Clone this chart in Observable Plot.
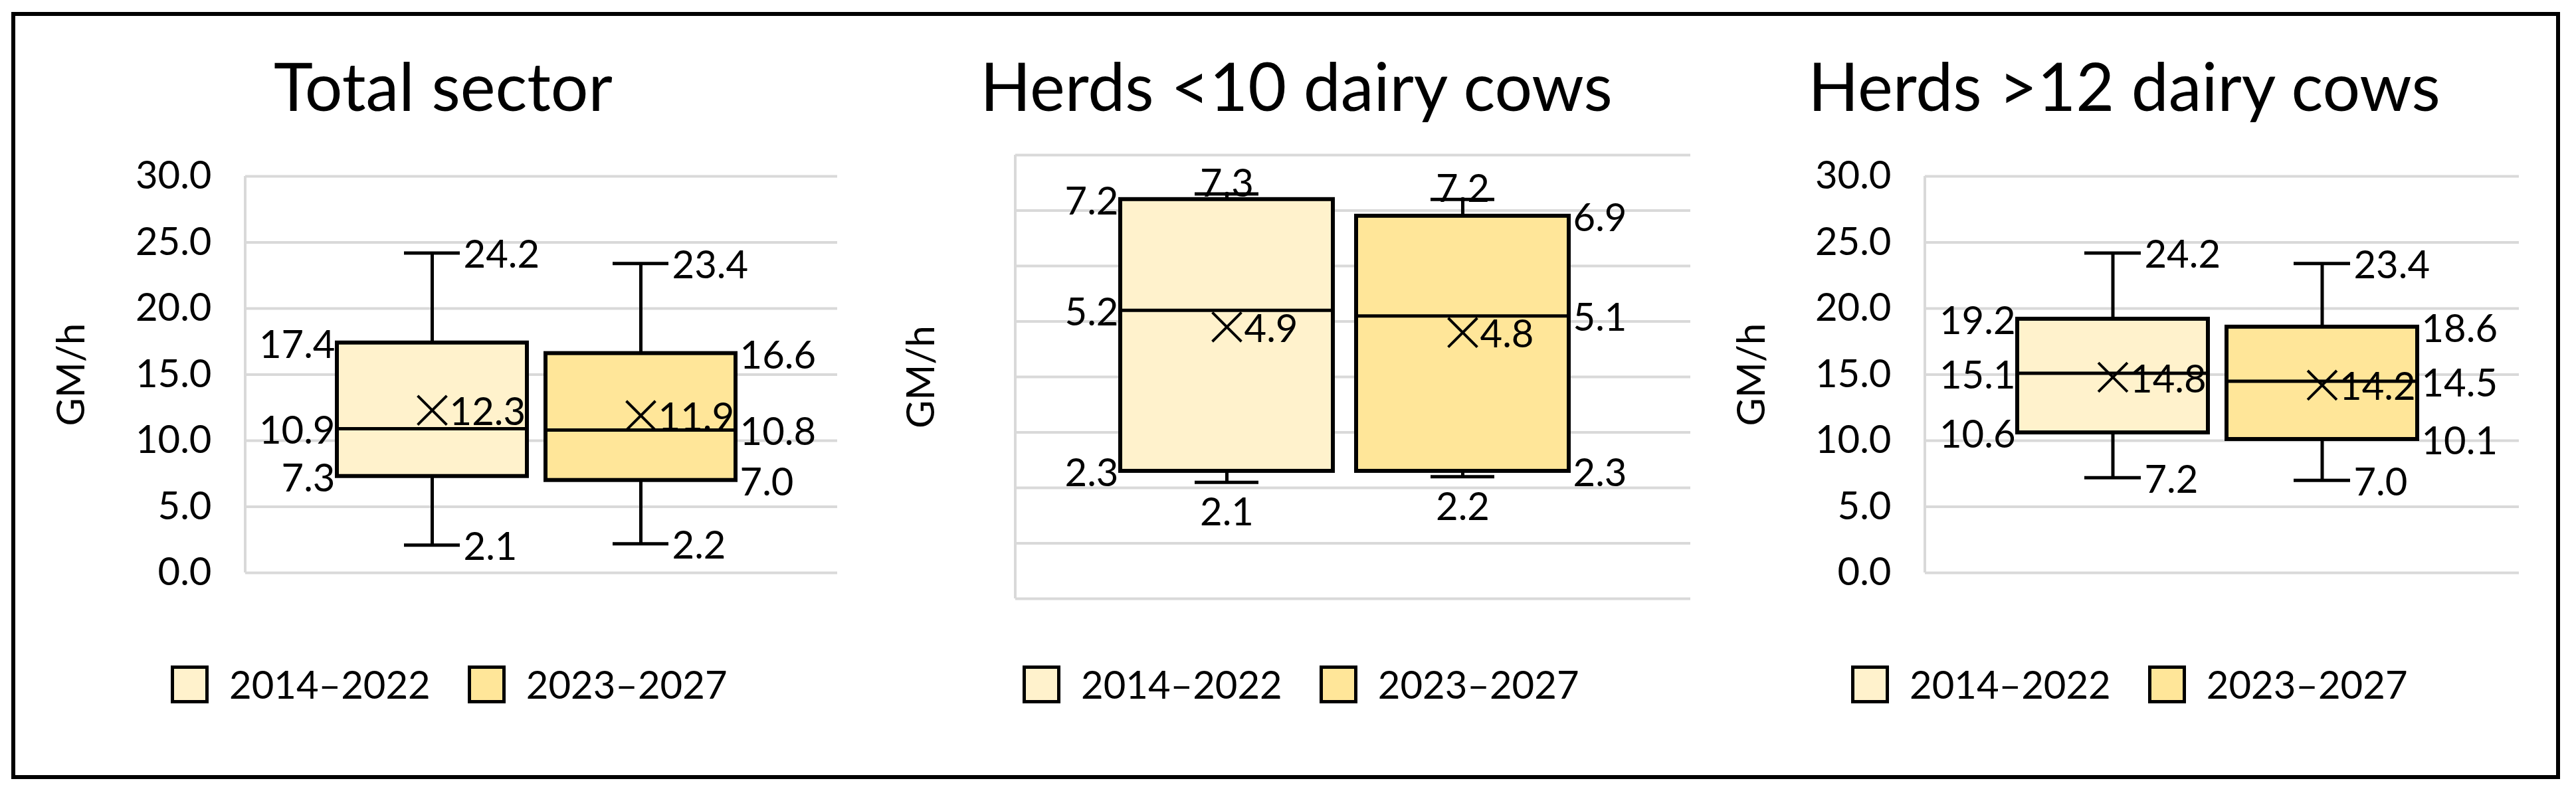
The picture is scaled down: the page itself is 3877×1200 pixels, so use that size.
<!DOCTYPE html>
<html>
<head>
<meta charset="utf-8">
<script src="https://cdn.jsdelivr.net/npm/d3@7"></script>
<script src="https://cdn.jsdelivr.net/npm/@observablehq/plot@0.6"></script>
<style>
  html, body { margin: 0; padding: 0; background: #fff; }
  body { width: 3877px; height: 1200px; position: relative; overflow: hidden; font-family: Lato, "Open Sans", sans-serif; color: #000; }
  .frame { position: absolute; left: 17px; top: 18px; width: 3836px; height: 1155px; box-sizing: border-box; border: 6px solid #000; }
  .title { position: absolute; width: 1600px; text-align: center; font-size: 100px; line-height: 1; white-space: nowrap; }
  .legend { position: absolute; display: flex; align-items: center; height: 56px; font-size: 58px; }
  .sw { width: 57px; height: 57px; box-sizing: border-box; border: 5px solid #000; margin-right: 31px; }
  .lt { line-height: 56px; margin-right: 56px; white-space: nowrap; }
  .panel { position: absolute; top: 200px; }
  .panel svg { overflow: visible; }
</style>
</head>
<body>
<div class="frame"></div>
<script>
// ---------- data ----------
const series = ["2014–2022", "2023–2027"];
const panelTitles = ["Total sector", "Herds <10 dairy cows", "Herds >12 dairy cows"];
const yAxisTitle = "GM/h";

// per panel, per series [2014–2022, 2023–2027]
const minValues    = [[2.1, 2.2],  [2.1, 2.2], [7.2, 7.0]];
const q1Values     = [[7.3, 7.0],  [2.3, 2.3], [10.6, 10.1]];
const medianValues = [[10.9, 10.8],[5.2, 5.1], [15.1, 14.5]];
const q3Values     = [[17.4, 16.6],[7.2, 6.9], [19.2, 18.6]];
const maxValues    = [[24.2, 23.4],[7.3, 7.2], [24.2, 23.4]];
const meanValues   = [[12.3, 11.9],[4.9, 4.8], [14.8, 14.2]];

const yTicksWide  = [0, 5, 10, 15, 20, 25, 30];
const yTickLabelsWide = ["0.0", "5.0", "10.0", "15.0", "20.0", "25.0", "30.0"];
const yTicksSmall = [0, 1, 2, 3, 4, 5, 6, 7, 8];

// ---------- styles / layout ----------
const fills = ["#FFF2CC", "#FFE699"];
const gridColor = "#D9D9D9";
const fontSize = 58;

const layout = [
  {svgLeft: 20,   width: 1270, mL: 349, mR: 30, mT: 65, mB: 138, ticks: yTicksWide,  tickLabels: yTickLabelsWide, pi: 0.09,   po: 0.4625, align: 0.475, capInset: 101, yLabelDx: -261, titleX: 667,  legendX: 257,  capLabels: "side"},
  {svgLeft: 1300, width: 1280, mL: 228, mR: 36, mT: 33, mB: 99,  ticks: yTicksSmall, tickLabels: null,            pi: 0.0986, po: 0.48,   align: 0.463, capInset: 112, yLabelDx: -141, titleX: 1951, legendX: 1539, capLabels: "vertical"},
  {svgLeft: 2590, width: 1250, mL: 307, mR: 49, mT: 65, mB: 138, ticks: yTicksWide,  tickLabels: yTickLabelsWide, pi: 0.09,   po: 0.4625, align: 0.475, capInset: 101, yLabelDx: -260, titleX: 3197, legendX: 2786, capLabels: "side"}
];
const svgHeight = 800;
const fmt = d3.format(".1f");

function leftLine(index, scales, values, dims) {
  const l = document.createElementNS("http://www.w3.org/2000/svg", "line");
  l.setAttribute("x1", dims.marginLeft);
  l.setAttribute("x2", dims.marginLeft);
  l.setAttribute("y1", dims.marginTop);
  l.setAttribute("y2", dims.height - dims.marginBottom);
  l.setAttribute("stroke", gridColor);
  l.setAttribute("stroke-width", 4);
  return l;
}

layout.forEach((L, p) => {
  const rows = series.map((s, i) => ({
    series: s, idx: i, fill: fills[i],
    min: minValues[p][i], q1: q1Values[p][i], median: medianValues[p][i],
    q3: q3Values[p][i], max: maxValues[p][i], mean: meanValues[p][i]
  }));
  const range = L.width - L.mL - L.mR;
  const step = range / (series.length - L.pi + 2 * L.po);
  const bw = step * (1 - L.pi);
  const capHalf = bw / 2 - L.capInset;
  const domain = [L.ticks[0], L.ticks[L.ticks.length - 1]];

  const marks = [
    Plot.gridY(L.ticks, {stroke: gridColor, strokeOpacity: 1, strokeWidth: 4}),
    leftLine,
    Plot.ruleX(rows, {x: "series", y1: "min", y2: "max", stroke: "#000", strokeWidth: 5}),
    Plot.barY(rows, {x: "series", y1: "q1", y2: "q3", fill: "fill", stroke: "#000", strokeWidth: 6}),
    Plot.tickY(rows, {x: "series", y: "median", stroke: "#000", strokeWidth: 5}),
    Plot.tickY(rows, {x: "series", y: "max", stroke: "#000", strokeWidth: 5, insetLeft: L.capInset, insetRight: L.capInset}),
    Plot.tickY(rows, {x: "series", y: "min", stroke: "#000", strokeWidth: 5, insetLeft: L.capInset, insetRight: L.capInset}),
    Plot.dot(rows, {x: "series", y: "mean", symbol: "times", r: 20, stroke: "#000", strokeWidth: 4}),
    Plot.text(rows, {x: "series", y: "mean", text: d => fmt(d.mean), dx: 26, dy: 4, textAnchor: "start", fontSize, fill: "#000"}),
    Plot.text([yAxisTitle], {frameAnchor: "left", dx: L.yLabelDx, rotate: -90, text: d => d, fontSize, fill: "#000", textAnchor: "middle"})
  ];
  if (L.tickLabels) {
    marks.unshift(Plot.axisY(L.ticks, {tickSize: 0, tickPadding: 51, tickFormat: (d, i) => L.tickLabels[L.ticks.indexOf(d)], fontSize, label: null, fill: "#000"}));
  }
  // box labels
  rows.forEach((r, i) => {
    const left = i === 0;
    for (const key of ["q1", "median", "q3"]) {
      marks.push(Plot.text([r], {x: "series", y: key, text: d => fmt(d[key]), dx: left ? -(bw / 2 + 3) : (bw / 2 + 6), dy: 4, textAnchor: left ? "end" : "start", fontSize, fill: "#000"}));
    }
    if (L.capLabels === "side") {
      marks.push(Plot.text([r], {x: "series", y: "max", text: d => fmt(d.max), dx: capHalf + 5, dy: 4, textAnchor: "start", fontSize, fill: "#000"}));
      marks.push(Plot.text([r], {x: "series", y: "min", text: d => fmt(d.min), dx: capHalf + 5, dy: 4, textAnchor: "start", fontSize, fill: "#000"}));
    } else {
      marks.push(Plot.text([r], {x: "series", y: "max", text: d => fmt(d.max), dy: 4, lineAnchor: "bottom", textAnchor: "middle", fontSize, fill: "#000"}));
      marks.push(Plot.text([r], {x: "series", y: "min", text: d => fmt(d.min), dy: 24, lineAnchor: "top", textAnchor: "middle", fontSize, fill: "#000"}));
    }
  });

  const chart = Plot.plot({
    width: L.width, height: svgHeight,
    marginLeft: L.mL, marginRight: L.mR, marginTop: L.mT, marginBottom: L.mB,
    x: {domain: series, paddingInner: L.pi, paddingOuter: L.po, align: L.align, axis: null},
    y: {domain, axis: null},
    style: {fontFamily: "Lato, 'Open Sans', sans-serif", fontSize: fontSize + "px", color: "#000", background: "transparent", overflow: "visible"},
    marks
  });
  const wrap = document.createElement("div");
  wrap.className = "panel";
  wrap.style.left = L.svgLeft + "px";
  wrap.appendChild(chart);
  document.body.appendChild(wrap);

  const t = document.createElement("div");
  t.className = "title";
  t.style.left = (L.titleX - 800) + "px";
  t.style.top = "78px";
  t.textContent = panelTitles[p];
  document.body.appendChild(t);

  const lg = document.createElement("div");
  lg.className = "legend";
  lg.style.left = L.legendX + "px";
  lg.style.top = "1002px";
  series.forEach((s, i) => {
    const sw = document.createElement("div");
    sw.className = "sw";
    sw.style.background = fills[i];
    const tx = document.createElement("span");
    tx.className = "lt";
    tx.textContent = s;
    lg.appendChild(sw); lg.appendChild(tx);
  });
  document.body.appendChild(lg);
});
</script>
</body>
</html>
